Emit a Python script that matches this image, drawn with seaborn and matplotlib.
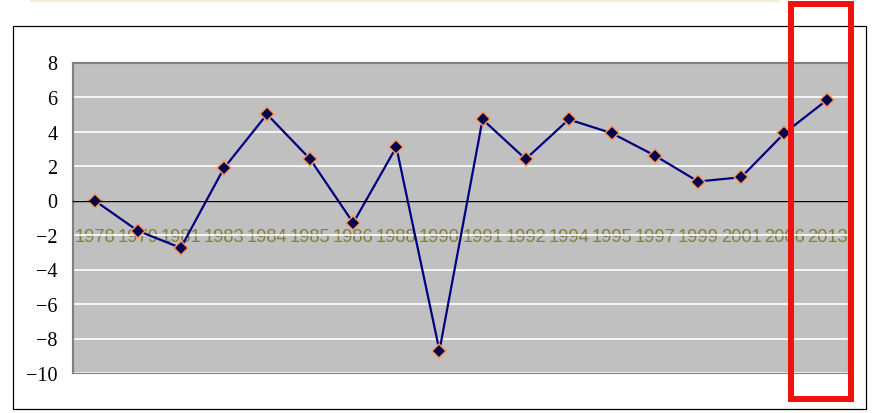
import pandas as pd
import matplotlib
matplotlib.use("Agg")
import matplotlib.pyplot as plt
from matplotlib.patches import Rectangle
import seaborn as sns

# values
years = ["1978", "1979", "1981", "1983", "1984", "1985", "1986", "1988", "1990",
         "1991", "1992", "1994", "1995", "1997", "1999", "2001", "2006", "2013"]
values = [0.0, -1.75, -2.75, 1.87, 5.0, 2.4, -1.3, 3.1, -8.7,
          4.7, 2.4, 4.7, 3.9, 2.6, 1.1, 1.35, 3.9, 5.85]
y_ticks = list(range(-10, 9, 2))

df = pd.DataFrame({"year": years, "value": values})

sns.set_style("whitegrid", {"axes.facecolor": "#C0C0C0", "grid.color": "white"})
plt.rcParams["axes.unicode_minus"] = True

fig = plt.figure(figsize=(8.72, 4.14), dpi=100)
ax = fig.add_axes([73 / 872, 40 / 414, 776 / 872, 310.5 / 414])

sns.lineplot(data=df, x="year", y="value", sort=False, ax=ax,
             color="#000080", linewidth=1.6,
             marker="D", markersize=7, markerfacecolor="#00004D",
             markeredgecolor="#F79A60", markeredgewidth=1.1)

ax.set_xlim(-0.5, len(years) - 0.5)
ax.set_ylim(-10, 8)
ax.set_yticks(y_ticks)
ax.set_xlabel("")
ax.set_ylabel("")
ax.grid(axis="x", visible=False)
ax.grid(axis="y", color="white", linewidth=1.2)

# category axis crosses at zero
ax.spines["bottom"].set_position(("data", 0))
ax.spines["bottom"].set_color("black")
ax.spines["bottom"].set_linewidth(1.0)
for side in ["top", "left", "right"]:
    ax.spines[side].set_color("#808080")
    ax.spines[side].set_linewidth(1.5)
ax.patch.set_edgecolor("#808080")
ax.patch.set_linewidth(1.5)

ax.tick_params(axis="x", length=0, pad=20, labelsize=13.2, labelcolor="#80803F")
ax.tick_params(axis="y", length=0, pad=11, labelsize=14.5, labelcolor="black")
for lab in ax.get_xticklabels():
    lab.set_family(["Liberation Sans", "DejaVu Sans"])
for lab in ax.get_yticklabels():
    lab.set_family(["Liberation Serif", "DejaVu Serif"])

# outer chart frame
fig.patches.append(Rectangle((13 / 872, 4 / 414), 853 / 872, 383 / 414,
                             transform=fig.transFigure, fill=False,
                             edgecolor="black", linewidth=0.9, zorder=0))
# faint strip at the very top
fig.patches.append(Rectangle((30 / 872, 411 / 414), 750 / 872, 3 / 414,
                             transform=fig.transFigure, facecolor="#F6EDDD",
                             edgecolor="none", zorder=0))
# red highlight box
fig.add_artist(Rectangle((791 / 872, 14 / 414), 60 / 872, 395 / 414,
                         transform=fig.transFigure, fill=False,
                         edgecolor="#F01010", linewidth=4.3, zorder=10))

fig.savefig("out.png", dpi=100)
